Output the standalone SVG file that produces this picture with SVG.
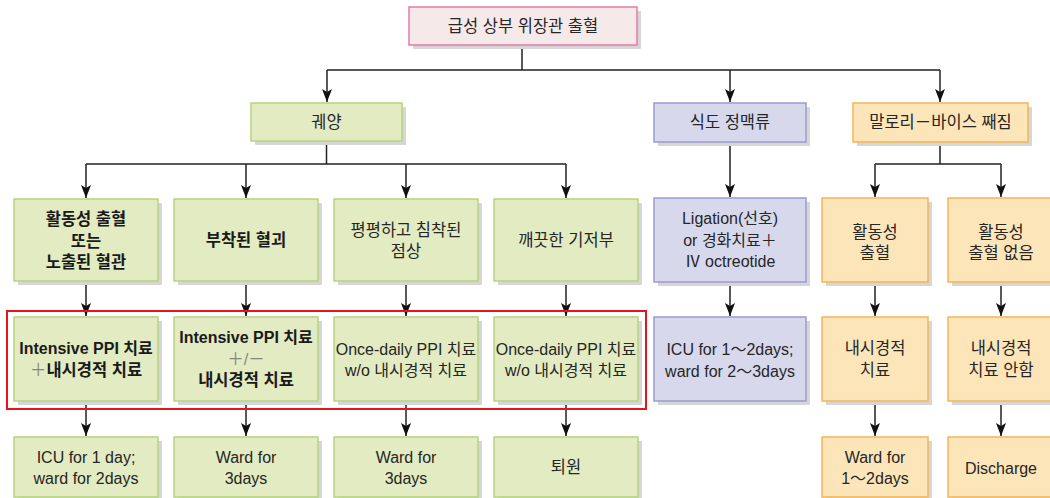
<svg xmlns="http://www.w3.org/2000/svg" width="1050" height="498" viewBox="0 0 1050 498">
<defs>
<style>
text{font-family:"Liberation Sans","Noto Sans CJK KR",sans-serif;font-size:16.5px;fill:#262626;text-anchor:middle;dominant-baseline:central}
.m{font-size:16px}
.b{font-weight:bold;fill:#1a1a1a}
.l{fill:#888;font-weight:normal}
.sh{fill:#d6d6d6}
.g{fill:#e2ebc1;stroke:#b5d47c;stroke-width:1.5}
.p{fill:#d7d8ec;stroke:#9c9bcf;stroke-width:1.5}
.o{fill:#fce5b8;stroke:#f5b556;stroke-width:1.5}
.k{fill:#f5e9ea;stroke:#e77aa6;stroke-width:1.5}
.c path{fill:none;stroke:#222;stroke-width:1.5}
</style>
<marker id="a" viewBox="0 0 10 13" refX="5" refY="13" markerWidth="10" markerHeight="13" markerUnits="userSpaceOnUse" orient="0">
<path d="M0,0 L5,3 L10,0 L5,13 Z" fill="#111"/>
</marker>
</defs>
<rect width="1050" height="498" fill="#fff"/>

<g class="c" id="connectors">
<path d="M522,45 V70 M327,70 H940"/>
<path d="M327,70 V102" marker-end="url(#a)"/>
<path d="M730,70 V102" marker-end="url(#a)"/>
<path d="M940,70 V102" marker-end="url(#a)"/>
<path d="M326.5,141 V164 M86,164 H566"/>
<path d="M86,164 V198" marker-end="url(#a)"/>
<path d="M246,164 V198" marker-end="url(#a)"/>
<path d="M406,164 V198" marker-end="url(#a)"/>
<path d="M566,164 V198" marker-end="url(#a)"/>
<path d="M86,282 V316" marker-end="url(#a)"/>
<path d="M246,282 V316" marker-end="url(#a)"/>
<path d="M406,282 V316" marker-end="url(#a)"/>
<path d="M566,282 V316" marker-end="url(#a)"/>
<path d="M86,401 V436" marker-end="url(#a)"/>
<path d="M246,401 V436" marker-end="url(#a)"/>
<path d="M406,401 V436" marker-end="url(#a)"/>
<path d="M566,401 V436" marker-end="url(#a)"/>
<path d="M730,142 V197" marker-end="url(#a)"/>
<path d="M730,282 V316" marker-end="url(#a)"/>
<path d="M940,142 V164 M875,164 H1001"/>
<path d="M875,164 V197" marker-end="url(#a)"/>
<path d="M1001,164 V197" marker-end="url(#a)"/>
<path d="M875,282 V316" marker-end="url(#a)"/>
<path d="M1001,282 V316" marker-end="url(#a)"/>
<path d="M875,401 V436" marker-end="url(#a)"/>
<path d="M1001,401 V436" marker-end="url(#a)"/>
</g>

<g id="n-top"><rect class="sh" x="413" y="11" width="228" height="38"/><rect class="k" x="409" y="7" width="228" height="38"/><text x="523" y="26">급성 상부 위장관 출혈</text></g>

<g id="n-ulcer"><rect class="sh" x="255" y="107" width="151" height="38"/><rect class="g" x="251" y="103" width="151" height="38"/><text x="326.5" y="122">궤양</text></g>
<g id="n-varix"><rect class="sh" x="658" y="107" width="152" height="39"/><rect class="p" x="654" y="103" width="152" height="39"/><text x="730" y="122">식도 정맥류</text></g>
<g id="n-mw"><rect class="sh" x="857" y="107" width="175" height="39"/><rect class="o" x="853" y="103" width="175" height="39"/><text x="940.5" y="122">말로리－바이스 째짐</text></g>

<g id="n-r2a"><rect class="sh" x="18" y="203" width="144" height="82"/><rect class="g" x="14" y="199" width="144" height="82"/><text class="b" x="86" y="219">활동성 출혈</text><text class="b" x="86" y="241">또는</text><text class="b" x="86" y="262">노출된 혈관</text></g>
<g id="n-r2b"><rect class="sh" x="178" y="203" width="144" height="82"/><rect class="g" x="174" y="199" width="144" height="82"/><text class="b" x="246" y="240">부착된 혈괴</text></g>
<g id="n-r2c"><rect class="sh" x="338" y="203" width="144" height="82"/><rect class="g" x="334" y="199" width="144" height="82"/><text x="406" y="230">평평하고 침착된</text><text x="406" y="251">점상</text></g>
<g id="n-r2d"><rect class="sh" x="498" y="203" width="144" height="82"/><rect class="g" x="494" y="199" width="144" height="82"/><text x="566" y="240">깨끗한 기저부</text></g>
<g id="n-r2e"><rect class="sh" x="658" y="202" width="152" height="84"/><rect class="p" x="654" y="198" width="152" height="84"/><text class="m" x="730" y="218">Ligation(선호)</text><text class="m" x="730" y="240">or 경화치료＋</text><text class="m" x="730" y="261">Ⅳ octreotide</text></g>
<g id="n-r2f"><rect class="sh" x="826" y="202" width="106" height="84"/><rect class="o" x="822" y="198" width="106" height="84"/><text x="875" y="232">활동성</text><text x="875" y="253">출혈</text></g>
<g id="n-r2g"><rect class="sh" x="952" y="202" width="106" height="84"/><rect class="o" x="948" y="198" width="106" height="84"/><text x="1001" y="232">활동성</text><text x="1001" y="253">출혈 없음</text></g>

<g id="n-r3a"><rect class="sh" x="18" y="321" width="144" height="84"/><rect class="g" x="14" y="317" width="144" height="84"/><text class="m" x="86" y="348" style="font-weight:600;fill:#1a1a1a">Intensive PPI 치료</text><text x="86" y="370"><tspan class="l">＋</tspan><tspan class="b">내시경적 치료</tspan></text></g>
<g id="n-r3b"><rect class="sh" x="178" y="321" width="144" height="84"/><rect class="g" x="174" y="317" width="144" height="84"/><text class="b m" x="246" y="337">Intensive PPI 치료</text><text class="l" x="246" y="359">＋/－</text><text class="b" x="246" y="380">내시경적 치료</text></g>
<g id="n-r3c"><rect class="sh" x="338" y="321" width="144" height="84"/><rect class="g" x="334" y="317" width="144" height="84"/><text class="m" x="406" y="349">Once-daily PPI 치료</text><text class="m" x="406" y="370">w/o 내시경적 치료</text></g>
<g id="n-r3d"><rect class="sh" x="498" y="321" width="144" height="84"/><rect class="g" x="494" y="317" width="144" height="84"/><text class="m" x="566" y="349">Once-daily PPI 치료</text><text class="m" x="566" y="370">w/o 내시경적 치료</text></g>
<g id="n-r3e"><rect class="sh" x="658" y="321" width="152" height="84"/><rect class="p" x="654" y="317" width="152" height="84"/><text class="m" x="730" y="349">ICU for 1～2days;</text><text class="m" x="730" y="371">ward for 2～3days</text></g>
<g id="n-r3f"><rect class="sh" x="826" y="321" width="106" height="84"/><rect class="o" x="822" y="317" width="106" height="84"/><text x="875" y="348">내시경적</text><text x="875" y="370">치료</text></g>
<g id="n-r3g"><rect class="sh" x="952" y="321" width="106" height="84"/><rect class="o" x="948" y="317" width="106" height="84"/><text x="1001" y="348">내시경적</text><text x="1001" y="370">치료 안함</text></g>

<rect id="highlight" x="7" y="311" width="639" height="98" fill="none" stroke="#e8141c" stroke-width="2"/>

<g id="n-r4a"><rect class="sh" x="18" y="441" width="144" height="60"/><rect class="g" x="14" y="437" width="144" height="60"/><text class="m" x="86" y="457">ICU for 1 day;</text><text class="m" x="86" y="478">ward for 2days</text></g>
<g id="n-r4b"><rect class="sh" x="178" y="441" width="144" height="60"/><rect class="g" x="174" y="437" width="144" height="60"/><text class="m" x="246" y="457">Ward for</text><text class="m" x="246" y="478">3days</text></g>
<g id="n-r4c"><rect class="sh" x="338" y="441" width="144" height="60"/><rect class="g" x="334" y="437" width="144" height="60"/><text class="m" x="406" y="457">Ward for</text><text class="m" x="406" y="478">3days</text></g>
<g id="n-r4d"><rect class="sh" x="498" y="441" width="144" height="60"/><rect class="g" x="494" y="437" width="144" height="60"/><text x="566" y="467">퇴원</text></g>
<g id="n-r4f"><rect class="sh" x="826" y="441" width="106" height="60"/><rect class="o" x="822" y="437" width="106" height="60"/><text class="m" x="875" y="457">Ward for</text><text class="m" x="875" y="478">1～2days</text></g>
<g id="n-r4g"><rect class="sh" x="952" y="441" width="106" height="60"/><rect class="o" x="948" y="437" width="106" height="60"/><text class="m" x="1001" y="468">Discharge</text></g>
</svg>
